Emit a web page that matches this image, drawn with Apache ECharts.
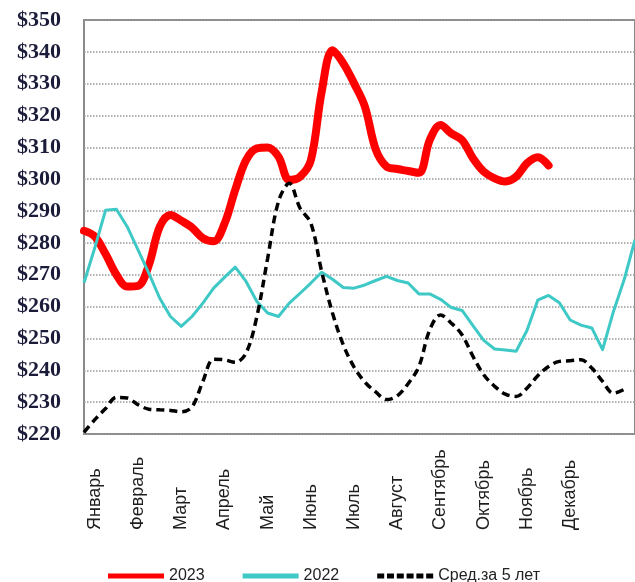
<!DOCTYPE html>
<html>
<head>
<meta charset="utf-8">
<script src="https://cdn.jsdelivr.net/npm/echarts@6/dist/echarts.min.js"></script>
<style>
  html, body { margin: 0; padding: 0; background: #fff; }
  #chart { width: 635px; height: 582px; }
</style>
</head>
<body>
<div id="chart"></div>
<script>
// недели года, подписи месяцев ставим на каждую 4-ю неделю
var weeks = [];
for (var w = 1; w <= 52; w++) weeks.push(w);
var months = ['Январь', 'Февраль', 'Март', 'Апрель', 'Май', 'Июнь',
              'Июль', 'Август', 'Сентябрь', 'Октябрь', 'Ноябрь', 'Декабрь'];
var monthWeekIdx = [1, 5, 9, 13, 17, 21, 25, 29, 33, 37, 41, 45];
var yTicks = [220, 230, 240, 250, 260, 270, 280, 290, 300, 310, 320, 330, 340, 350];

var y2023 = [283.8, 282, 276.5, 270, 266.3, 266.5, 273, 285, 288.8, 287, 284.8, 281.5, 280.5,
             286, 296.7, 306, 309.7, 310, 307.1, 299.8, 300.8, 306, 327.5, 340.5, 336.4, 330.1,
             322.8, 309.4, 304, 303.2, 302.6, 302, 312.3, 317, 314.4, 312.3, 306.6, 302.4, 300.3,
             299.3, 300.8, 305, 306.9, 304.3];
var y2022 = [267.5, 278.5, 290.3, 290.6, 285.1, 277.8, 270.5, 262.7, 256.9, 253.8, 256.9, 261.1, 265.8,
             269.2, 272.4, 267.9, 261.6, 258, 256.9, 261.1, 264.2, 267.4, 270.8, 268.6, 266, 265.8,
             266.8, 268.2, 269.5, 268.2, 267.4, 264, 264, 262.3, 259.7, 258.8, 254, 249.4, 246.7,
             246.4, 246, 252.5, 262, 263.5, 261.2, 255.8, 254.2, 253.3, 246.5, 258.4, 268.5, 281];
var yAvg5 = [220.5, 224.5, 228, 231.5, 231.3, 229.2, 227.8, 227.6, 227.4, 227, 228.5, 236.5, 243.5,
             243.3, 242.5, 245.4, 256.9, 275.2, 293, 298.7, 290.9, 286.2, 271, 258, 248, 241,
             236.3, 233.2, 230.8, 232, 235.8, 241.2, 252.7, 257.4, 254.8, 251.1, 244.4, 238.6, 235,
             232.5, 231.8, 234.4, 238.3, 241.2, 242.8, 243, 243.3, 240.7, 236.5, 232.8, 234];

// значки легенды: сплошная полоса и пунктир
var iconSolid = 'path://M0,0H56V5H0Z';
var iconDash = 'path://M0,0h7v5h-7z M9.8,0h7v5h-7z M19.6,0h7v5h-7z M29.4,0h7v5h-7z M39.2,0h7v5h-7z M49,0h7v5h-7z';

var chart = echarts.init(document.getElementById('chart'));
var option = {
  animation: false,
  grid: {
    left: 84, right: -3, top: 20, bottom: 148,
    show: true, borderColor: '#8a8a8a', borderWidth: 2
  },
  legend: {
    top: 563, left: 103,
    itemWidth: 56, itemHeight: 5, itemGap: 38,
    symbolKeepAspect: false,
    textStyle: { fontFamily: 'Liberation Sans', fontSize: 16, color: '#222' },
    data: [
      { name: '2023', icon: iconSolid, itemStyle: { color: '#ff0000' } },
      { name: '2022', icon: iconSolid, itemStyle: { color: '#3ec8c6' } },
      { name: 'Сред.за 5 лет', icon: iconDash, itemStyle: { color: '#000' } }
    ]
  },
  xAxis: {
    type: 'category',
    data: weeks,
    boundaryGap: false,
    axisLine: { show: false },
    axisTick: { show: false },
    axisLabel: {
      interval: 0,
      rotate: 90,
      align: 'left',
      verticalAlign: 'middle',
      margin: 96,
      fontFamily: 'Liberation Sans',
      fontSize: 18,
      color: '#1e1e1e',
      formatter: function (v, i) {
        var k = monthWeekIdx.indexOf(i);
        return k >= 0 ? months[k] : '';
      }
    }
  },
  yAxis: {
    type: 'value',
    min: yTicks[0],
    max: yTicks[yTicks.length - 1],
    interval: 10,
    axisLine: { show: false },
    axisTick: { show: false },
    axisLabel: {
      margin: 23,
      fontFamily: 'Liberation Serif',
      fontSize: 22,
      fontWeight: 'bold',
      color: '#1b1b3a',
      formatter: '${value}'
    },
    splitLine: { lineStyle: { type: 'dotted', color: '#999', width: 1.5 } }
  },
  series: [{
    name: '2023',
    type: 'line',
    data: y2023,
    smooth: 0.35,
    symbol: 'none',
    lineStyle: { color: '#ff0000', width: 8, cap: 'round', join: 'round' },
    itemStyle: { color: '#ff0000' }
  }, {
    name: '2022',
    type: 'line',
    data: y2022,
    symbol: 'none',
    lineStyle: { color: '#3ec8c6', width: 3, join: 'round' },
    itemStyle: { color: '#3ec8c6' }
  }, {
    name: 'Сред.за 5 лет',
    type: 'line',
    data: yAvg5,
    smooth: 0.35,
    symbol: 'none',
    lineStyle: { color: '#000', width: 3.5, type: [8, 5] },
    itemStyle: { color: '#000' }
  }]
};
chart.setOption(option);
</script>
</body>
</html>
